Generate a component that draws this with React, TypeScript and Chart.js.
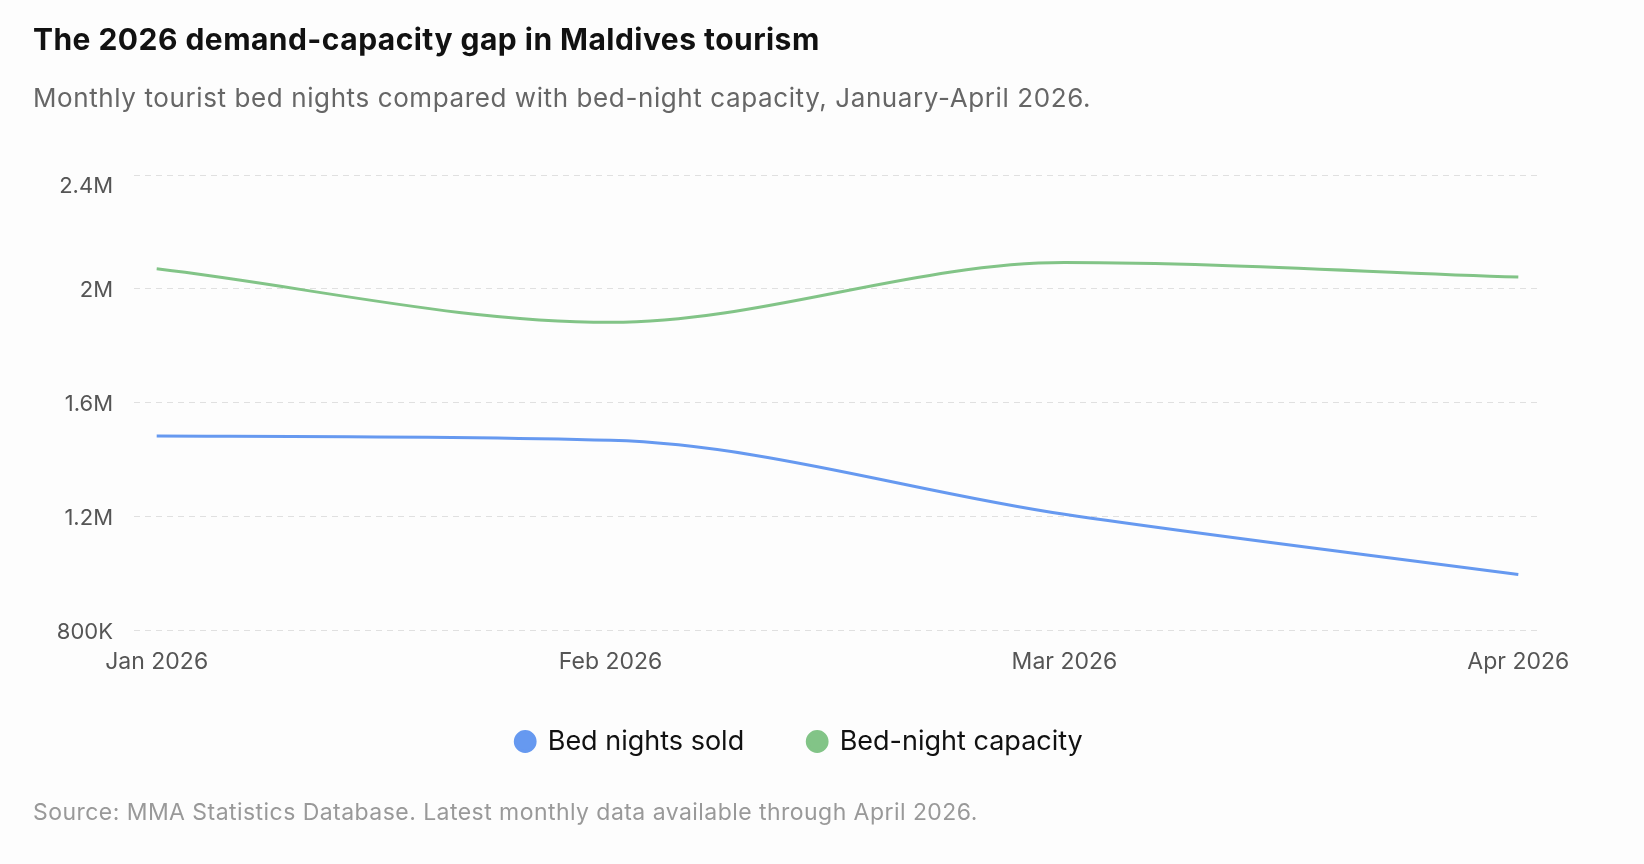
import React, { useEffect, useRef } from "react";
import { Chart, registerables } from "chart.js";

Chart.register(...registerables);

const months = ["Jan 2026", "Feb 2026", "Mar 2026", "Apr 2026"];
const bedNightsSold = [1482000, 1467000, 1207000, 995000];
const bedNightCapacity = [2070000, 1882000, 2092000, 2041000];
const yTickValues = [800000, 1200000, 1600000, 2000000, 2400000];
const yTickLabels = ["800K", "1.2M", "1.6M", "2M", "2.4M"];

const FONT = "Inter, 'Noto Sans', sans-serif";

export default function App() {
  const ref = useRef<HTMLCanvasElement | null>(null);

  useEffect(() => {
    document.body.style.margin = "0";
    const canvas = ref.current;
    if (!canvas) return;
    const chart = new Chart(canvas, {
      type: "line",
      data: {
        datasets: [
          {
            label: "Bed nights sold",
            data: bedNightsSold.map((v, i) => ({ x: i, y: v })),
            borderColor: "#6699F0",
            backgroundColor: "#6699F0",
            borderWidth: 3,
            pointRadius: 0,
            pointHoverRadius: 0,
            cubicInterpolationMode: "monotone",
            fill: false,
          },
          {
            label: "Bed-night capacity",
            data: bedNightCapacity.map((v, i) => ({ x: i, y: v })),
            borderColor: "#82C487",
            backgroundColor: "#82C487",
            borderWidth: 3,
            pointRadius: 0,
            pointHoverRadius: 0,
            cubicInterpolationMode: "monotone",
            fill: false,
          },
        ],
      },
      options: {
        responsive: false,
        animation: false,
        layout: { padding: { left: 58, right: 103, top: 175, bottom: 99 } },
        plugins: {
          tooltip: { enabled: false },
          legend: {
            position: "bottom",
            align: "center",
            title: {
              display: true,
              text: "",
              font: { family: FONT, size: 1 },
              padding: { top: -15.2, bottom: 0 },
            },
            labels: {
              usePointStyle: true,
              pointStyle: "circle",
              boxWidth: 18,
              boxHeight: 14,
              padding: 64,
              color: "#111111",
              font: { family: FONT, size: 27 },
            },
          },
        },
        scales: {
          x: {
            type: "linear",
            min: -0.05,
            max: 3.05,
            afterBuildTicks: (scale: any) => {
              scale.ticks = months.map((_, i) => ({ value: i }));
            },
            afterFit: (scale: any) => {
              scale.height = 48;
            },
            grid: { display: false, drawTicks: false },
            border: { display: false },
            ticks: {
              padding: 18,
              color: "#555555",
              font: { family: FONT, size: 23 },
              maxRotation: 0,
              autoSkip: false,
              callback: (v: any) => months[Math.round(Number(v))] ?? "",
            },
          },
          y: {
            min: 800000,
            max: 2400000,
            afterBuildTicks: (scale: any) => {
              scale.ticks = yTickValues.map((v) => ({ value: v }));
            },
            afterFit: (scale: any) => {
              scale.width = 76;
            },
            grid: { color: "#e0e0e0", lineWidth: 1, drawTicks: false },
            border: { display: false, dash: [6, 5] },
            ticks: {
              padding: 21,
              labelOffset: 2,
              color: "#555555",
              font: { family: FONT, size: 22, lineHeight: "18px" },
              callback: (_v: any, i: number) =>
                i === yTickValues.length - 1 ? ["", yTickLabels[i]] : yTickLabels[i],
            },
          },
        },
      },
    });
    return () => chart.destroy();
  }, []);

  return (
    <div
      style={{
        position: "fixed",
        left: 0,
        top: 0,
        width: 1644,
        height: 864,
        background: "#fdfdfd",
        fontFamily: FONT,
        overflow: "hidden",
      }}
    >
      <canvas
        ref={ref}
        width={1644}
        height={864}
        style={{ position: "absolute", left: 0, top: 0, width: 1644, height: 864 }}
      />
      <div
        style={{
          position: "absolute",
          left: 33,
          top: 23.5,
          fontSize: 30,
          lineHeight: "30px",
          letterSpacing: "0.46px",
          fontWeight: 700,
          color: "#111111",
          whiteSpace: "nowrap",
        }}
      >
        The 2026 demand-capacity gap in Maldives tourism
      </div>
      <div
        style={{
          position: "absolute",
          left: 33,
          top: 85,
          fontSize: 26,
          lineHeight: "26px",
          letterSpacing: "0.6px",
          color: "#666666",
          whiteSpace: "nowrap",
        }}
      >
        Monthly tourist bed nights compared with bed-night capacity, January-April 2026.
      </div>
      <div
        style={{
          position: "absolute",
          left: 33,
          top: 801,
          fontSize: 23,
          lineHeight: "23px",
          letterSpacing: "0.45px",
          color: "#999999",
          whiteSpace: "nowrap",
        }}
      >
        Source: MMA Statistics Database. Latest monthly data available through April 2026.
      </div>
    </div>
  );
}
